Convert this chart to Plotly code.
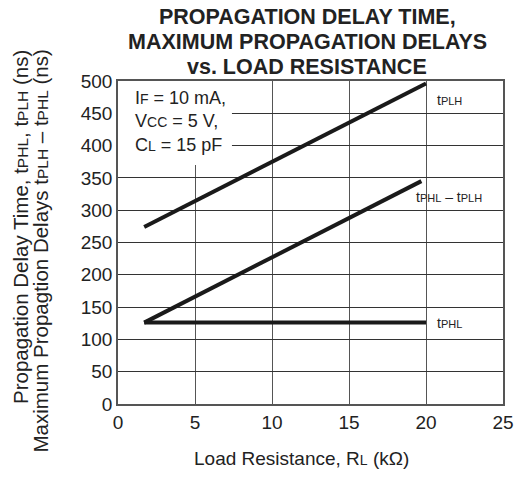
import plotly.graph_objects as go

# load resistance (kOhm) endpoints and delays (ns)
rl_tplh = [1.7, 20.0]
tplh = [274, 496]
rl_diff = [1.7, 19.7]
tphl_minus_tplh = [126, 345]
rl_tphl = [1.7, 20.0]
tphl = [126, 126]

x_ticks = [0, 5, 10, 15, 20, 25]
y_ticks = [0, 50, 100, 150, 200, 250, 300, 350, 400, 450, 500]

title_lines = ["PROPAGATION DELAY TIME,", "MAXIMUM PROPAGATION DELAYS", "vs. LOAD RESISTANCE"]

W, H = 518, 485
L, R, T, B = 118, 15, 81, 81
FONT = "Liberation Sans, Arial, sans-serif"
pw, ph = W - L - R, H - T - B

def sub(s, size):
    return "<span style='font-size:%spx'>%s</span>" % (size, s)

def px(x, y):
    # page pixel -> paper coords
    return (x - L) / pw, (H - B - y) / ph

fig = go.Figure()
for xs, ys in [(rl_tplh, tplh), (rl_diff, tphl_minus_tplh), (rl_tphl, tphl)]:
    fig.add_trace(go.Scatter(x=xs, y=ys, mode="lines",
                             line=dict(color="#1a1a1a", width=4),
                             showlegend=False, hoverinfo="skip"))

# white box behind the test conditions
fig.add_shape(type="rect", x0=0, x1=7.4, y0=370, y1=500, xref="x", yref="y",
              fillcolor="white", line_width=0, layer="between")

fig.add_annotation(x=0.95, y=438, xref="x", yref="y", xanchor="left", yanchor="middle",
                   align="left", showarrow=False,
                   text="I" + sub("F", 14) + " = 10 mA,<br>V" + sub("CC", 14) + " = 5 V,<br>C" + sub("L", 14) + " = 15 pF",
                   font=dict(size=18, color="#222", family=FONT))

lab = dict(xref="x", yref="y", xanchor="left", yanchor="middle", showarrow=False,
           font=dict(size=14, color="#222", family=FONT))
fig.add_annotation(x=20.6, y=470, text="t" + sub("PLH", 11), **lab)
fig.add_annotation(x=19.2, y=320, text="t" + sub("PHL", 11) + " – t" + sub("PLH", 11), **lab)
fig.add_annotation(x=20.6, y=125, text="t" + sub("PHL", 11), **lab)

# title, one annotation per line
for yy, line in zip([17, 42, 67], title_lines):
    ax, ay = px(307, yy)
    fig.add_annotation(x=ax, y=ay, xref="paper", yref="paper", xanchor="center", yanchor="middle",
                       showarrow=False, text="<b>" + line + "</b>",
                       font=dict(size=21.5, color="#222", family=FONT))

# two-line y axis title, both lines end at the same height
for xx, txt in [(21, "Propagation Delay Time, t" + sub("PHL", 15.5) + ", t" + sub("PLH", 15.5) + " (ns)"),
                (40, "Maximum Propagtion Delays t" + sub("PLH", 15.5) + " – t" + sub("PHL", 15.5) + " (ns)")]:
    ax, ay = px(xx, 48)
    fig.add_annotation(x=ax, y=ay, xref="paper", yref="paper",
                       xanchor="center", yanchor="top", textangle=-90,
                       showarrow=False, text=txt,
                       font=dict(size=20.5, color="#222", family=FONT))

ax, ay = px(301, 458)
fig.add_annotation(x=ax, y=ay, xref="paper", yref="paper", xanchor="center", yanchor="middle",
                   showarrow=False, text="Load Resistance, R" + sub("L", 14) + " (kΩ)",
                   font=dict(size=19, color="#222", family=FONT))

fig.update_xaxes(range=[0, 25], tickvals=x_ticks, showgrid=True, gridcolor="#555", gridwidth=1.3,
                 showline=True, linecolor="#555", linewidth=1.5, mirror=True, ticks="",
                 zeroline=False, automargin=False,
                 tickfont=dict(size=19, color="#222", family=FONT))
fig.update_yaxes(range=[0, 500], tickvals=y_ticks, showgrid=True, gridcolor="#333", gridwidth=1.3,
                 showline=True, linecolor="#555", linewidth=1.5, mirror=True, ticks="",
                 zeroline=False, automargin=False,
                 tickfont=dict(size=19, color="#222", family=FONT))

fig.update_layout(width=W, height=H, margin=dict(l=L, r=R, t=T, b=B, autoexpand=False),
                  plot_bgcolor="white", paper_bgcolor="white")

# drop the browser's default body margin so the figure sits at the page corner
fig.write_html("out.html", config={"displayModeBar": False},
               post_script="document.body.style.margin='0';")
